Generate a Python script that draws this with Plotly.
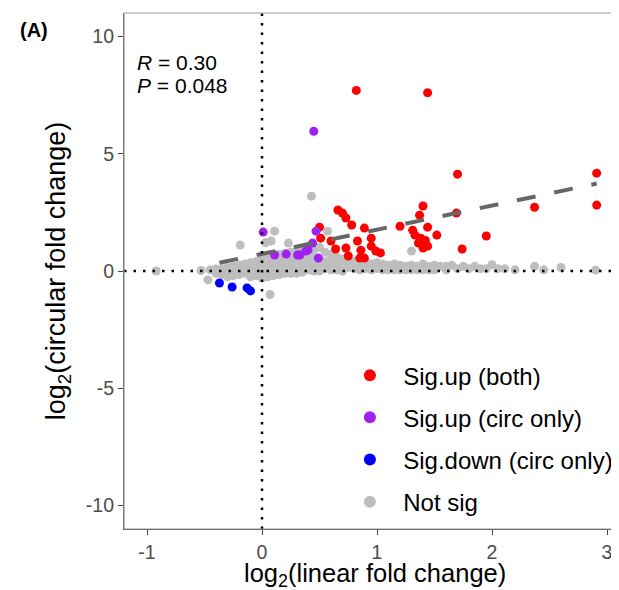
import plotly.graph_objects as go

# ---------------- data ----------------
red_x = [0.82, 1.44, 1.70, 2.91, 2.37, 2.91, 1.40, 1.69, 1.95, 1.74, 1.44, 1.52, 1.44, 1.37, 1.38, 1.42,
         0.66, 0.70, 0.73, 0.78, 0.89, 1.20, 0.50, 0.51, 0.60, 0.64, 0.73, 0.75, 0.83, 0.86, 0.85, 0.89,
         0.95, 0.95, 0.99, 1.03, 1.33, 1.31, 1.36, 1.41, 1.40]
red_y = [7.70, 7.60, 4.13, 4.17, 2.72, 2.81, 2.77, 2.47, 1.49, 0.94, 1.87, 1.53, 1.06, 2.38, 1.40, 1.30,
         2.60, 2.47, 2.26, 1.96, 1.83, 1.91, 1.87, 1.40, 1.28, 0.94, 0.98, 0.64, 1.28, 0.89, 0.55, 0.55,
         1.40, 1.06, 0.85, 0.77, 1.53, 1.74, 1.19, 1.28, 0.98]

purple_x = [0.45, 0.01, 0.47, 0.44, 0.49, 0.33, 0.40, 0.11, 0.21, 0.31, 0.38]
purple_y = [5.96, 1.66, 1.70, 1.19, 0.55, 0.68, 0.89, 0.68, 0.72, 0.68, 0.85]

blue_x = [-0.37, -0.26, -0.13, -0.10]
blue_y = [-0.51, -0.68, -0.72, -0.85]

grey_x = [-0.92, -0.53, -0.47, -0.45, -0.40, -0.40, -0.35, -0.35, -0.30, -0.30, -0.30, -0.25, -0.25, -0.25,
          -0.20, -0.20, -0.20, -0.19, -0.15, -0.15, -0.15, -0.10, -0.10, -0.10, -0.10, -0.05, -0.05, -0.05,
          -0.05, 0.00, 0.00, 0.00, 0.00, 0.00, 0.03, 0.05, 0.05, 0.05, 0.05, 0.05, 0.07, 0.08, 0.10, 0.10,
          0.10, 0.10, 0.10, 0.11, 0.15, 0.15, 0.15, 0.15, 0.15, 0.20, 0.20, 0.20, 0.20, 0.20, 0.23, 0.25,
          0.25, 0.25, 0.25, 0.25, 0.30, 0.30, 0.30, 0.30, 0.30, 0.35, 0.35, 0.35, 0.35, 0.35, 0.40, 0.40,
          0.40, 0.40, 0.43, 0.45, 0.45, 0.45, 0.45, 0.50, 0.50, 0.50, 0.50, 0.55, 0.55, 0.55, 0.57, 0.60,
          0.60, 0.60, 0.65, 0.65, 0.65, 0.70, 0.70, 0.70, 0.75, 0.75, 0.80, 0.80, 0.85, 0.85, 0.90, 0.90,
          0.95, 0.95, 1.00, 1.00, 1.05, 1.05, 1.10, 1.10, 1.15, 1.15, 1.20, 1.20, 1.25, 1.25, 1.30, 1.30,
          1.30, 1.35, 1.35, 1.40, 1.40, 1.45, 1.45, 1.50, 1.50, 1.55, 1.60, 1.60, 1.65, 1.70, 1.75, 1.80,
          1.85, 1.90, 1.95, 2.00, 2.05, 2.11, 2.20, 2.37, 2.45, 2.60, 2.90]
grey_y = [0.00, 0.02, -0.38, 0.05, 0.08, -0.10, 0.10, -0.15, 0.15, -0.05, -0.25, 0.20, 0.00, -0.20,
          0.25, 0.05, -0.15, 1.11, 0.30, 0.10, -0.10, 0.35, 0.15, -0.05, -0.25, 0.40, 0.20, 0.00,
          -0.20, 0.50, 0.30, 0.10, -0.10, -0.30, 1.20, 0.55, 0.35, 0.15, -0.05, -0.25, -1.00, 1.28, 0.60, 0.40,
          0.20, 0.00, -0.20, 1.70, 0.70, 0.45, 0.25, 0.05, -0.15, 0.75, 0.50, 0.30, 0.10, -0.10, 1.19, 0.80,
          0.55, 0.30, 0.10, -0.10, 0.85, 0.55, 0.30, 0.10, -0.10, 0.90, 0.60, 0.35, 0.10, -0.05, 1.00, 0.60,
          0.30, 0.05, 3.19, 0.90, 0.55, 0.25, 0.00, 1.00, 0.50, 0.20, 0.00, 0.80, 0.40, 0.10, 1.70, 0.70,
          0.35, 0.05, 0.60, 0.30, 0.05, 0.50, 0.20, 0.00, 0.45, 0.15, 0.40, 0.10, 0.35, 0.05, 0.40, 0.10,
          0.30, 0.05, 0.35, 0.10, 0.30, 0.05, 0.25, 0.05, 0.30, 0.05, 0.25, 0.05, 0.20, 0.05, 0.85, 0.25,
          0.05, 0.20, 0.05, 0.30, 0.05, 0.20, 0.05, 0.25, 0.05, 0.20, 0.20, 0.05, 0.25, 0.10, 0.20, 0.10,
          0.20, 0.10, 0.10, 0.27, 0.10, 0.10, 0.05, 0.20, 0.05, 0.15, 0.04]

# regression fit (fitted on significant points)
fit_intercept = 0.73
fit_slope = 1.03

x_ticks = [-1, 0, 1, 2, 3]
y_ticks = [-10, -5, 0, 5, 10]

# ---------------- figure ----------------
FONT = "Liberation Sans, Arial, sans-serif"
NB = "\u00a0\u00a0"
fig = go.Figure()

fig.add_trace(go.Scatter(x=grey_x, y=grey_y, mode="markers", name=NB + "Not sig",
                         marker=dict(color="#BEBEBE", size=9), legendrank=4, legendgroup="d"))
fig.add_trace(go.Scatter(x=red_x, y=red_y, mode="markers", name=NB + "Sig.up (both)",
                         marker=dict(color="#FF0000", size=9), legendrank=1, legendgroup="a"))
fig.add_trace(go.Scatter(x=purple_x, y=purple_y, mode="markers", name=NB + "Sig.up (circ only)",
                         marker=dict(color="#A020F0", size=9), legendrank=2, legendgroup="b"))
fig.add_trace(go.Scatter(x=blue_x, y=blue_y, mode="markers", name=NB + "Sig.down (circ only)",
                         marker=dict(color="#0000FF", size=9), legendrank=3, legendgroup="c"))

sig_x = red_x + purple_x + blue_x
lx = [min(sig_x), max(sig_x)]
ly = [fit_intercept + fit_slope * v for v in lx]
fig.add_trace(go.Scatter(x=lx, y=ly, mode="lines", showlegend=False, hoverinfo="skip",
                         line=dict(color="#666666", width=4, dash="19px,19px")))

# dotted reference lines
fig.add_shape(type="line", xref="x", yref="paper", x0=0, x1=0, y0=0, y1=1, layer="above",
              line=dict(color="black", width=2.5, dash="2.5px,7px"))
fig.add_shape(type="line", xref="paper", yref="y", x0=0, x1=1, y0=0, y1=0, layer="above",
              line=dict(color="black", width=2.5, dash="2.5px,7px"))
# panel border
fig.add_shape(type="rect", xref="paper", yref="paper", x0=0, x1=1, y0=0, y1=1, layer="above",
              line=dict(color="#9A9A9A", width=1.2))

fig.add_annotation(x=0.022, y=0.9043, xref="paper", yref="paper", xanchor="left", yanchor="middle",
                   text="<i>R</i> = 0.30", showarrow=False,
                   font=dict(family=FONT, size=21, color="black"))
fig.add_annotation(x=0.022, y=0.8598, xref="paper", yref="paper", xanchor="left", yanchor="middle",
                   text="<i>P</i> = 0.048", showarrow=False,
                   font=dict(family=FONT, size=21, color="black"))
fig.add_annotation(x=-0.211, y=0.967, xref="paper", yref="paper", xanchor="left", yanchor="middle",
                   text="<b>(A)</b>", showarrow=False, font=dict(family=FONT, size=20, color="black"))
# x-axis title (bottom of its box kept inside the page)
fig.add_annotation(x=0.5, y=-0.1248, xref="paper", yref="paper", xanchor="center", yanchor="bottom",
                   text="log<sub>2</sub>(linear fold change)", showarrow=False,
                   font=dict(family=FONT, size=25.5, color="black"))

fig.update_layout(
    width=619, height=590,
    margin=dict(l=116, r=1, t=4.5, b=68.5),
    paper_bgcolor="white", plot_bgcolor="white",
    font=dict(family=FONT, color="black"),
    showlegend=True,
    legend=dict(x=0.450, y=0.341, xanchor="left", yanchor="top", bgcolor="rgba(0,0,0,0)",
                font=dict(family=FONT, size=24, color="black"), tracegroupgap=8,
                itemsizing="constant"),
    xaxis=dict(range=[-1.2, 3.165], tickvals=x_ticks, ticktext=[str(v) for v in x_ticks],
               showgrid=False, zeroline=False, showline=True, linecolor="#444444", linewidth=1.2,
               ticks="outside", ticklen=5, tickwidth=1.2, tickcolor="#444444",
               tickfont=dict(family=FONT, size=19.5, color="#4D4D4D")),
    yaxis=dict(range=[-11, 11], tickvals=y_ticks, ticktext=[str(v) for v in y_ticks],
               showgrid=False, zeroline=False, showline=True, linecolor="#444444", linewidth=1.2,
               ticks="outside", ticklen=5, tickwidth=1.2, tickcolor="#444444",
               tickfont=dict(family=FONT, size=19.5, color="#4D4D4D"),
               title=dict(text="log<sub>2</sub>(circular fold change)", standoff=12,
                          font=dict(family=FONT, size=27, color="black"))),
)

fig.write_html("out.html")
